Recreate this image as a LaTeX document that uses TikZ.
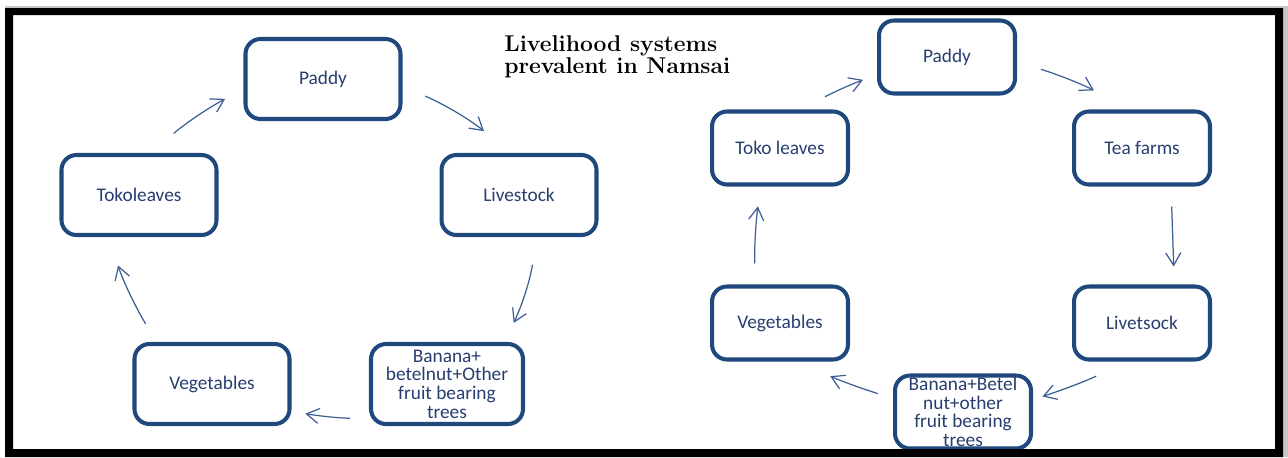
\documentclass[tikz,border=0pt]{standalone}
\usepackage{fontspec}
\usepackage{tikz}
\usepackage{xcolor}
\usetikzlibrary{positioning, arrows.meta}
\newfontfamily\boxfont{Carlito}
\definecolor{BoxBlue}{RGB}{31,73,125}
\definecolor{TextBlue}{RGB}{40,62,112}
\definecolor{ArrowBlue}{RGB}{62,95,150}

\begin{document}
\begin{tikzpicture}[x=0.02cm, y=-0.02cm]
                % Define the styles for the boxes and the arrows
                \tikzstyle{bigbox}=[draw=BoxBlue, line width=2.3pt, rounded corners=0.3cm, minimum width=3.1cm, minimum height=1.6cm, text=TextBlue, font=\boxfont\fontsize{11}{10.6}\selectfont, align=center, inner sep=1pt];
                \tikzstyle{smallbox}=[bigbox, minimum width=2.72cm, minimum height=1.46cm];
                \tikzstyle{flow}=[draw=ArrowBlue, line width=0.7pt, -{Straight Barb[length=2.5mm, width=3mm]}];

                % Fix the size of the page
                \useasboundingbox (0,0) rectangle (1288,457);
                \fill[gray!45] (5,6) rectangle (1288,457);
                \fill[white] (5,8) rectangle (1283,457);

                % Title
                \node[anchor=north west, inner sep=0pt, align=left, font=\bfseries\fontsize{13}{12.5}\selectfont] (title) at (504,35) {Livelihood systems\\prevalent in Namsai};

                % Left cycle
                \node[bigbox] (paddyL) at (323,79) {Paddy};
                \node[bigbox] (livestockL) at (519,195) {Livestock};
                \node[bigbox] (tokoL) at (139,195) {Tokoleaves};
                \node[bigbox] (vegL) at (212,384) {Vegetables};
                \node[bigbox, minimum width=3.04cm] (bananaL) at (447,384) {Banana+\\betelnut+Other\\fruit bearing\\trees};

                \draw[flow, shorten <=0.6cm, shorten >=0.42cm] (tokoL.74) to[bend left=6] (paddyL.187);
                \draw[flow, shorten <=0.5cm, shorten >=0.68cm] (paddyL.355) to[bend left=8] (livestockL.102);
                \draw[flow, shorten <=0.56cm, shorten >=0.42cm] (livestockL.293) to[bend left=8] (bananaL.36);
                \draw[flow, shorten <=0.38cm, shorten >=0.28cm] (bananaL.204) to[bend left=4] (vegL.341);
                \draw[flow, shorten <=0.42cm, shorten >=0.6cm] (vegL.143) to[bend left=6] (tokoL.234);

                % Right cycle
                \node[smallbox] (paddyR) at (947,57) {Paddy};
                \node[smallbox] (teaR) at (1142,148) {Tea farms};
                \node[smallbox] (tokoR) at (780,148) {Toko leaves};
                \node[smallbox] (vegR) at (780,323) {Vegetables};
                \node[smallbox] (livestockR) at (1142,323) {Livetsock};
                \node[smallbox] (bananaR) at (963,412) {Banana+Betel\\nut+other\\fruit bearing\\trees};

                \draw[flow, shorten <=0.52cm, shorten >=0.3cm] (tokoR.60) to[bend left=4] (paddyR.194);
                \draw[flow, shorten <=0.5cm, shorten >=0.78cm] (paddyR.356) to[bend left=6] (teaR.110);
                \draw[flow, shorten <=0.4cm, shorten >=0.36cm] (teaR.307) to (livestockR.50);
                \draw[flow, shorten <=0.66cm, shorten >=0.2cm] (livestockR.247) to[bend left=4] (bananaR.10);
                \draw[flow, shorten <=0.32cm, shorten >=0.68cm] (bananaR.169) to[bend left=4] (vegR.297);
                \draw[flow, shorten <=0.42cm, shorten >=0.4cm] (vegR.123) to[bend left=4] (tokoR.243);

                % Frame on top of everything
                \fill[black, even odd rule] (5,8) rectangle (1283,457) (13,15) rectangle (1275,449);
            \end{tikzpicture}
\end{document}
